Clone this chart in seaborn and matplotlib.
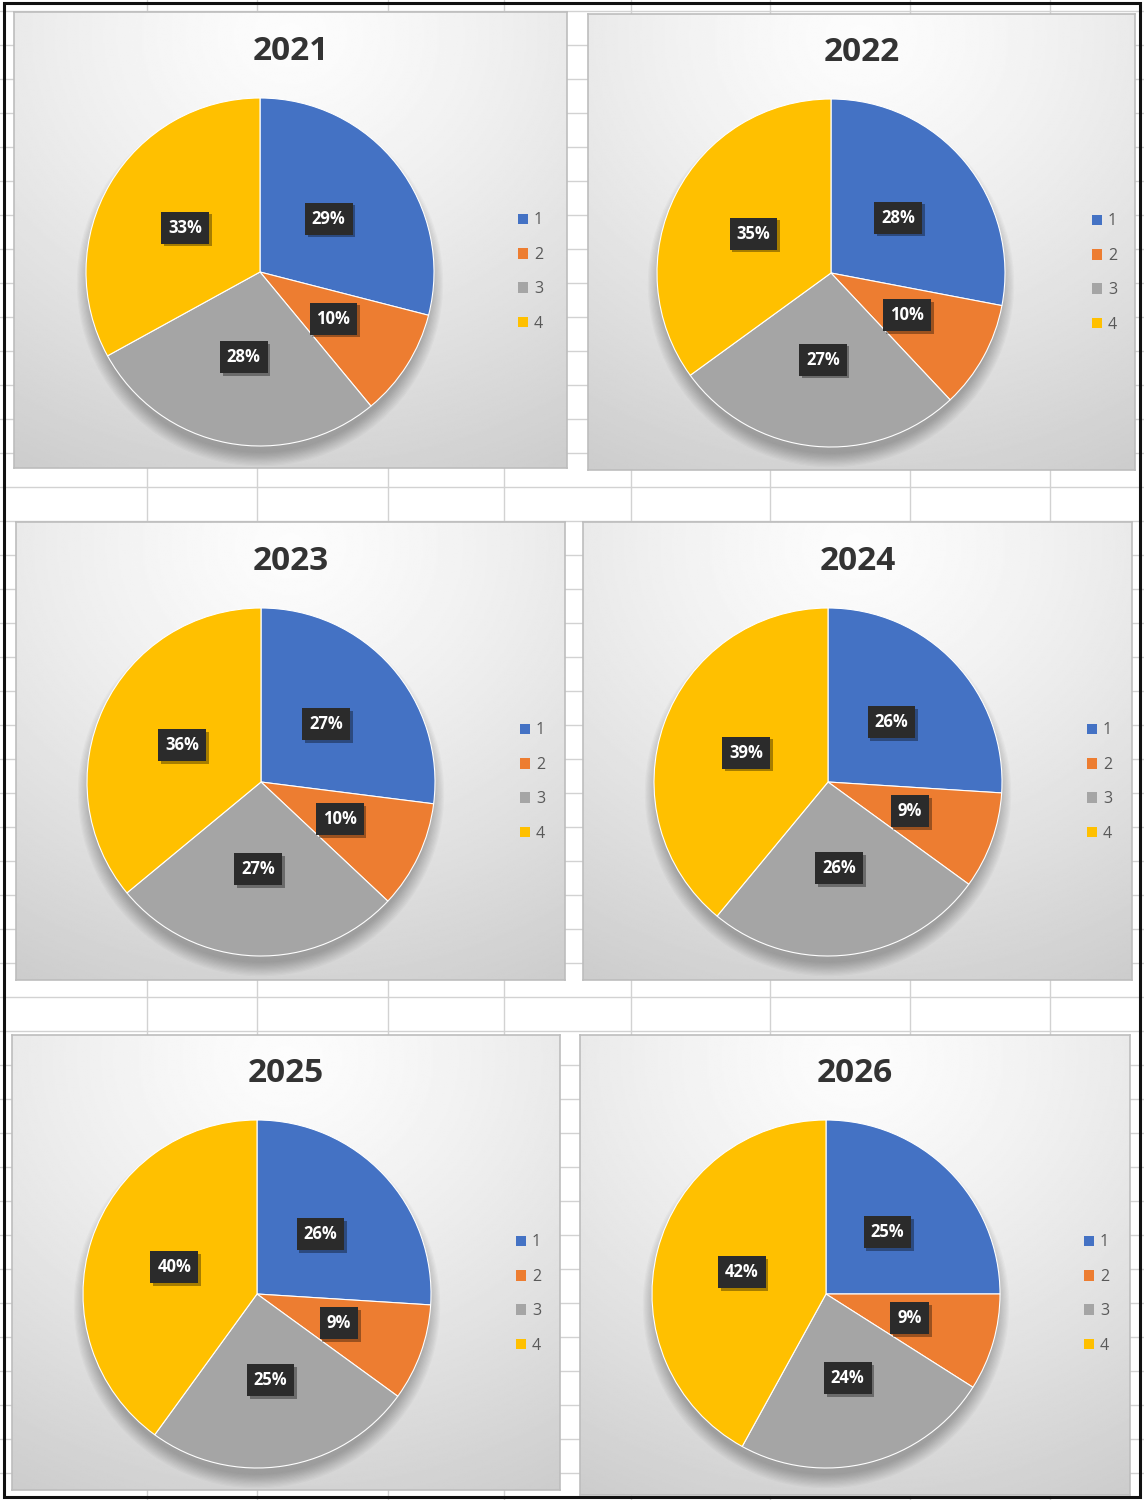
import numpy as np
import matplotlib
matplotlib.use("Agg")
import matplotlib.pyplot as plt
import matplotlib.patheffects as pe
from matplotlib.patches import Rectangle, Circle
import seaborn as sns

sns.set_theme(style="white")
plt.rcParams["font.family"] = ["Open Sans", "DejaVu Sans"]

# ---- data -------------------------------------------------------------
years = ["2021", "2022", "2023", "2024", "2025", "2026"]
categories = ["1", "2", "3", "4"]
share_2021 = [29, 10, 28, 33]
share_2022 = [28, 10, 27, 35]
share_2023 = [27, 10, 27, 36]
share_2024 = [26, 9, 26, 39]
share_2025 = [26, 9, 25, 40]
share_2026 = [25, 9, 24, 42]
shares = [share_2021, share_2022, share_2023, share_2024, share_2025, share_2026]

palette = sns.color_palette(["#4472C4", "#ED7D31", "#A5A5A5", "#FFC000"])

# ---- layout (pixels, origin top-left) -----------------------------------
W, H = 1144, 1500
panel_boxes = [  # x0, y0, x1, y1
    (14, 12, 567, 468),
    (588, 14, 1135, 470),
    (16, 522, 565, 980),
    (583, 522, 1132, 980),
    (12, 1035, 560, 1490),
    (580, 1035, 1130, 1495),
]
pie_centres = [(260, 272), (831, 273), (261, 782), (828, 782), (257, 1294), (826, 1294)]
pie_radius = 174
title_y = [52, 52, 562, 562, 1074, 1074]

fig = plt.figure(figsize=(W / 100, H / 100), dpi=100)

# spreadsheet backdrop
bg = fig.add_axes([0, 0, 1, 1])
bg.set_xlim(0, W)
bg.set_ylim(H, 0)
bg.axis("off")
bg.add_patch(Rectangle((0, 0), W, H, color="white", zorder=0))
for x in [147, 257, 388, 504, 631, 770, 910, 1050]:
    bg.axvline(x, color="#d2d2d2", lw=1.0, zorder=1)
for y in np.arange(11, H, 34):
    bg.axhline(y, color="#d2d2d2", lw=1.0, zorder=1)
bg.add_patch(Rectangle((4, 3), 1136, 1494, fill=False, ec="#111111", lw=2.2, zorder=5))

# radial gradient used for every chart area: bright near the top, greyer below
gy, gx = np.mgrid[0:1:300j, 0:1:300j]
dist = np.sqrt(((gx - 0.5) / 1.0) ** 2 + ((gy - 0.05) / 1.05) ** 2)
grad = 0.99 - 0.17 * np.clip(dist / 0.95, 0, 1.1) ** 1.3

for i, (year, vals) in enumerate(zip(years, shares)):
    x0, y0, x1, y1 = panel_boxes[i]
    w, h = x1 - x0, y1 - y0
    ax = fig.add_axes([x0 / W, 1 - y1 / H, w / W, h / H])
    ax.imshow(grad, cmap="gray", vmin=0, vmax=1, extent=(0, w, 0, h),
              origin="upper", aspect="auto", zorder=0, interpolation="bilinear")

    cx = pie_centres[i][0] - x0
    cy = y1 - pie_centres[i][1]

    # soft shadow falling below the pie
    for k in range(12):
        ax.add_patch(Circle((cx, cy - 11), pie_radius - 4 + k * 1.2,
                            color="#000000", alpha=0.025, lw=0, zorder=1))

    wedges, _, autotexts = ax.pie(
        vals, colors=palette, startangle=90, counterclock=False,
        center=(cx, cy), radius=pie_radius, frame=True,
        autopct="%1.0f%%", pctdistance=0.5,
        wedgeprops=dict(edgecolor="white", linewidth=0.8, zorder=2),
        textprops=dict(color="white", fontsize=12, fontweight="bold"),
    )
    for t in autotexts:
        t.set_zorder(4)
        t.set_bbox(dict(boxstyle="square,pad=0.42", fc="#2b2b2b", ec="none"))
        t.get_bbox_patch().set_path_effects(
            [pe.SimplePatchShadow(offset=(2, -2), shadow_rgbFace="black", alpha=0.35),
             pe.Normal()])

    ax.text(w / 2, y1 - title_y[i], year, ha="center", va="center",
            fontsize=24, fontweight="bold", color="#333333", zorder=5)

    leg = ax.legend(wedges, categories, loc="center left",
                    bbox_to_anchor=(496, cy), bbox_transform=ax.transData,
                    frameon=False, fontsize=11.5, labelcolor="#595959",
                    handlelength=0.65, handleheight=0.65, handletextpad=0.35,
                    labelspacing=1.15, borderpad=0)
    for hnd in leg.legend_handles:
        hnd.set_edgecolor("none")

    ax.set_xlim(0, w)
    ax.set_ylim(0, h)
    ax.set_aspect("auto")
    ax.set_xticks([])
    ax.set_yticks([])
    for s in ax.spines.values():
        s.set_visible(True)
        s.set_color("#bdbdbd")
        s.set_linewidth(1.2)

fig.savefig("out.png", dpi=100)
